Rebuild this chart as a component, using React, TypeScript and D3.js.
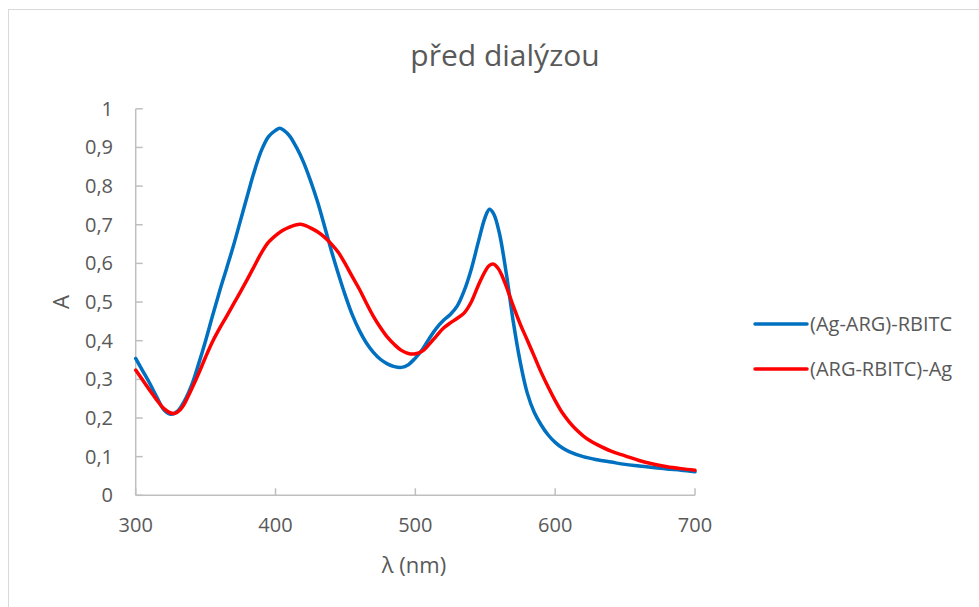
import React from "react";
import * as d3 from "d3";

const title = "před dialýzou";
const xTitle = "λ (nm)";
const yTitle = "A";
const seriesNames = ["(Ag-ARG)-RBITC", "(ARG-RBITC)-Ag"];
const seriesColors = ["#0070C0", "#FF0000"];

const xTicks = [300, 400, 500, 600, 700];
const yTicks = [0, 0.1, 0.2, 0.3, 0.4, 0.5, 0.6, 0.7, 0.8, 0.9, 1];

const blueX = [300, 305, 310, 315, 320, 325, 330, 335, 340, 345, 350, 355, 360, 365, 370, 375, 380, 385, 390, 395, 400, 403, 406, 410, 415, 420, 425, 430, 435, 440, 445, 450, 455, 460, 465, 470, 475, 480, 485, 490, 495, 500, 505, 510, 515, 520, 525, 530, 535, 540, 545, 550, 553, 556, 560, 565, 570, 575, 580, 585, 590, 595, 600, 605, 610, 620, 630, 640, 650, 660, 670, 680, 690, 700];
const blueY = [0.354, 0.322, 0.29, 0.255, 0.222, 0.21, 0.218, 0.245, 0.285, 0.34, 0.4, 0.465, 0.528, 0.587, 0.647, 0.712, 0.777, 0.84, 0.893, 0.928, 0.944, 0.95, 0.944, 0.93, 0.9, 0.862, 0.814, 0.76, 0.697, 0.632, 0.572, 0.516, 0.466, 0.426, 0.394, 0.37, 0.352, 0.34, 0.333, 0.331, 0.338, 0.355, 0.377, 0.406, 0.432, 0.452, 0.468, 0.49, 0.53, 0.585, 0.655, 0.72, 0.74, 0.728, 0.68, 0.575, 0.45, 0.345, 0.265, 0.215, 0.182, 0.156, 0.137, 0.123, 0.113, 0.1, 0.092, 0.086, 0.08, 0.076, 0.072, 0.068, 0.065, 0.061];

const redX = [300, 305, 310, 315, 320, 325, 328, 332, 335, 340, 345, 350, 355, 360, 365, 370, 375, 380, 385, 390, 395, 400, 405, 410, 415, 418, 422, 426, 430, 435, 440, 445, 450, 455, 460, 465, 470, 475, 480, 485, 490, 495, 500, 505, 510, 515, 520, 525, 530, 535, 540, 545, 550, 553, 556, 559, 562, 566, 570, 575, 580, 585, 590, 595, 600, 605, 610, 615, 620, 625, 630, 640, 650, 660, 670, 680, 690, 700];
const redY = [0.324, 0.298, 0.272, 0.247, 0.225, 0.213, 0.212, 0.222, 0.238, 0.275, 0.315, 0.358, 0.398, 0.432, 0.463, 0.495, 0.527, 0.56, 0.594, 0.628, 0.655, 0.672, 0.685, 0.694, 0.7, 0.701, 0.697, 0.69, 0.682, 0.668, 0.65, 0.628, 0.598, 0.565, 0.533, 0.497, 0.463, 0.434, 0.409, 0.39, 0.375, 0.367, 0.366, 0.373, 0.391, 0.412, 0.432, 0.446, 0.458, 0.472, 0.5, 0.543, 0.58, 0.595, 0.598, 0.588, 0.568, 0.531, 0.49, 0.443, 0.402, 0.36, 0.318, 0.28, 0.245, 0.214, 0.19, 0.17, 0.154, 0.141, 0.131, 0.114, 0.102, 0.09, 0.081, 0.074, 0.069, 0.065];

const FONT = "'Open Sans', 'Noto Sans', sans-serif";
const TEXT = "#595959";
const AXIS = "#bfbfbf";

export default function App() {
  const x = d3.scaleLinear().domain([300, 700]).range([135.7, 695]);
  const y = d3.scaleLinear().domain([0, 1]).range([495.3, 108.8]);

  const line = d3
    .line<[number, number]>()
    .x((d) => x(d[0]))
    .y((d) => y(d[1]))
    .curve(d3.curveCatmullRom.alpha(0.5));

  const series = [
    blueX.map((v, i) => [v, blueY[i]] as [number, number]),
    redX.map((v, i) => [v, redY[i]] as [number, number]),
  ];

  const legendY = [324, 369];

  return (
    <svg
      width={979}
      height={607}
      style={{ position: "absolute", left: 0, top: 0, background: "#fff" }}
      fontFamily={FONT}
    >
      <rect x={0} y={0} width={979} height={607} fill="#fff" />
      <rect x={8.5} y={9.5} width={1000} height={700} fill="none" stroke="#d9d9d9" strokeWidth={1} />
      <text x={505} y={66} textAnchor="middle" fontSize={30} fill={TEXT}>
        {title}
      </text>

      <line x1={x(300)} x2={x(300)} y1={y(0)} y2={y(1)} stroke={AXIS} strokeWidth={1.5} />
      <line x1={x(300)} x2={x(700)} y1={y(0)} y2={y(0)} stroke={AXIS} strokeWidth={1.5} />
      {yTicks.map((t) => (
        <g key={"y" + t}>
          <line x1={x(300)} x2={x(300) + 7} y1={y(t)} y2={y(t)} stroke={AXIS} strokeWidth={1.5} />
          <text x={113} y={y(t)} dy="0.35em" textAnchor="end" fontSize={20} fill={TEXT}>
            {String(Math.round(t * 10) / 10).replace(".", ",")}
          </text>
        </g>
      ))}
      {xTicks.map((t) => (
        <g key={"x" + t}>
          <line x1={x(t)} x2={x(t)} y1={y(0)} y2={y(0) - 7} stroke={AXIS} strokeWidth={1.5} />
          <text x={x(t)} y={532} textAnchor="middle" fontSize={20} fill={TEXT}>
            {t}
          </text>
        </g>
      ))}
      <text x={414} y={573} textAnchor="middle" fontSize={22} fill={TEXT}>
        {xTitle}
      </text>
      <text
        transform="translate(69,302) rotate(-90)"
        textAnchor="middle"
        fontSize={22}
        fill={TEXT}
      >
        {yTitle}
      </text>

      {series.map((s, i) => (
        <path
          key={"s" + i}
          d={line(s) || ""}
          fill="none"
          stroke={seriesColors[i]}
          strokeWidth={3.5}
          strokeLinejoin="round"
          strokeLinecap="round"
        />
      ))}

      {seriesNames.map((n, i) => (
        <g key={"l" + i}>
          <line
            x1={755}
            x2={807}
            y1={legendY[i]}
            y2={legendY[i]}
            stroke={seriesColors[i]}
            strokeWidth={3.5}
            strokeLinecap="round"
          />
          <text x={810} y={legendY[i]} dy="0.35em" fontSize={20} fill={TEXT}>
            {n}
          </text>
        </g>
      ))}
    </svg>
  );
}
